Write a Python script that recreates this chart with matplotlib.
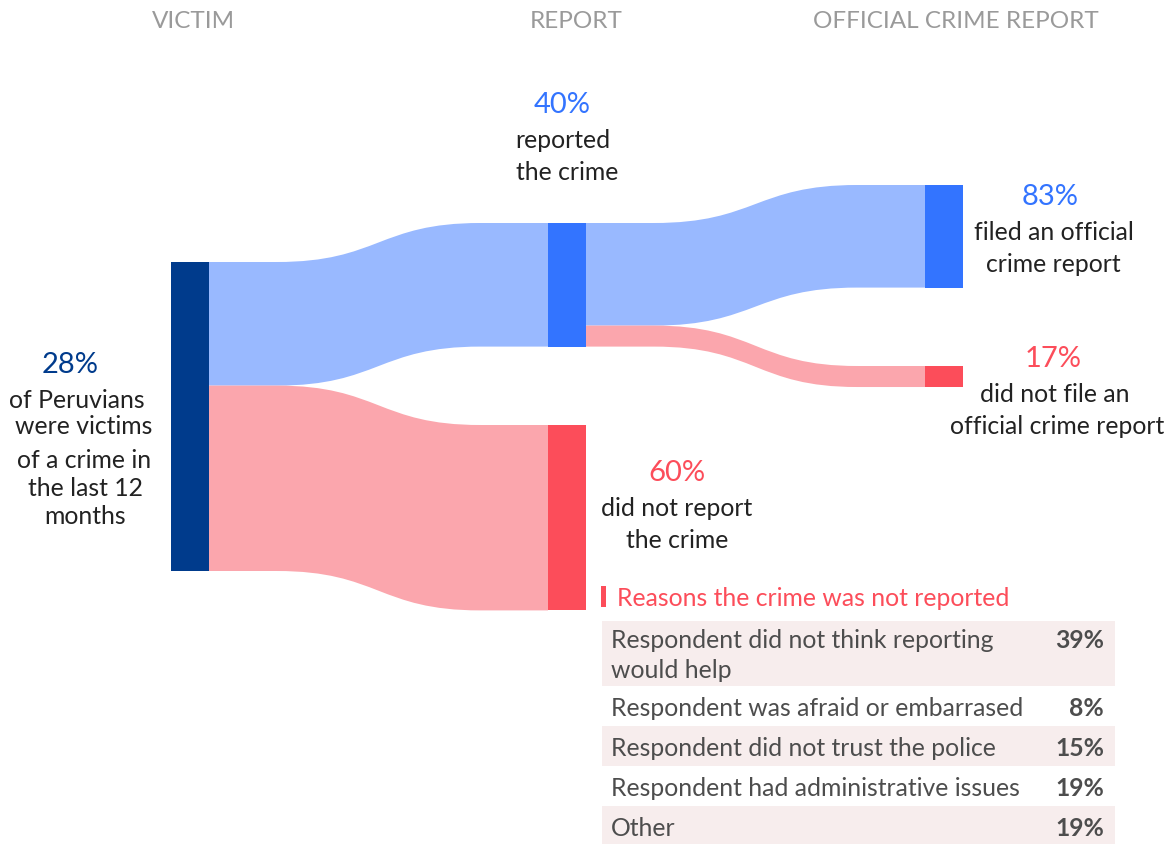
import matplotlib
matplotlib.use("Agg")
import matplotlib.pyplot as plt
from matplotlib.patches import Rectangle, PathPatch
from matplotlib.path import Path

# data
stage_titles = ["VICTIM", "REPORT", "OFFICIAL CRIME REPORT"]
victim_pct = 28
report_pct = [40, 60]          # reported, did not report
official_pct = [83, 17]        # filed, did not file
reasons = ["Respondent did not think reporting\nwould help",
           "Respondent was afraid or embarrased",
           "Respondent did not trust the police",
           "Respondent had administrative issues",
           "Other"]
reason_pct = [39, 8, 15, 19, 19]

# colours
NAVY = "#003b8c"
BLUE = "#3374ff"
RED = "#fc4d5a"
LBLUE = "#99b9ff"
LPINK = "#fba6ad"
DARK = "#222222"
GRAY = "#9a9a9a"
TABLE_TXT = "#4d4d4d"
ROW_BG = "#f7eded"
FONT = "Lato"

fig = plt.figure(figsize=(11.73, 8.44), dpi=100)
ax = fig.add_axes([0, 0, 1, 1])
ax.set_xlim(0, 1173)
ax.set_ylim(844, 0)
ax.axis("off")

# layout (pixels)
col_x = [171, 548, 925]
node_w = 38
full_h = 309
victim_top = 262
report_tops = [223, 425]
official_tops = [185, 366]


def node(x, top, h, color):
    ax.add_patch(Rectangle((x, top), node_w, h, color=color, lw=0, zorder=3))


def edge(x0, y0, x1, y1):
    # flat start, s-curve in the middle, flat end
    dx = x1 - x0
    xa, xb = x0 + 0.2 * dx, x0 + 0.8 * dx
    xm = (xa + xb) / 2
    return [(x0, y0), (xa, y0), (xm, y0), (xm, y1), (xb, y1), (x1, y1)]


def flow(x0, y0, x1, y1, h, color):
    top = edge(x0, y0, x1, y1)
    bot = edge(x0, y0 + h, x1, y1 + h)[::-1]
    seg = [Path.LINETO, Path.CURVE4, Path.CURVE4, Path.CURVE4, Path.LINETO]
    verts = top + bot + [top[0]]
    codes = [Path.MOVETO] + seg + [Path.LINETO] + seg + [Path.CLOSEPOLY]
    ax.add_patch(PathPatch(Path(verts, codes), fc=color, ec="none", zorder=2))


# victim node
node(col_x[0], victim_top, full_h, NAVY)

# report stage
rep_h = [full_h * p / 100 for p in report_pct]
src = victim_top
for top, h, nc, lc in zip(report_tops, rep_h, [BLUE, RED], [LBLUE, LPINK]):
    node(col_x[1], top, h, nc)
    flow(col_x[0] + node_w, src, col_x[1], top, h, lc)
    src += h

# official stage
off_h = [rep_h[0] * p / 100 for p in official_pct]
src = report_tops[0]
for top, h, nc, lc in zip(official_tops, off_h, [BLUE, RED], [LBLUE, LPINK]):
    node(col_x[2], top, h, nc)
    flow(col_x[1] + node_w, src, col_x[2], top, h, lc)
    src += h

# stage titles
for t, x in zip(stage_titles, [193, 576, 956]):
    ax.text(x, 22, t, ha="center", va="center", fontsize=17.5, color=GRAY,
            family=FONT)

BODY = 17.8
PCT = 21


def label(x, y, pct, color, lines, line_x=None, gap=None):
    ax.text(x, y + 2, f"{pct}%", ha="center", va="center", fontsize=PCT,
            color=color, family=FONT)
    for i, ln in enumerate(lines):
        lx = x if line_x is None else line_x[i]
        ly = y + 37 + i * 33 if gap is None else gap[i]
        ax.text(lx, ly, ln, ha="center", va="center", fontsize=BODY,
                color=DARK, family=FONT)


label(70, 363, victim_pct, NAVY,
      ["of Peruvians", "were victims", "of a crime in", "the last 12", "months"],
      line_x=[77, 84, 84, 85, 85], gap=[400, 427, 460, 488, 517])
label(562, 103, report_pct[0], BLUE, ["reported", "the crime"], line_x=[563, 567])
label(677, 471, report_pct[1], RED, ["did not report", "the crime"])
label(1050, 195, official_pct[0], BLUE, ["filed an official", "crime report"],
      line_x=[1054, 1053])
label(1053, 357, official_pct[1], RED, ["did not file an", "official crime report"],
      line_x=[1055, 1057])

# reasons table
ax.add_patch(Rectangle((601, 586), 5, 21, color=RED, lw=0))
ax.text(617, 598, "Reasons the crime was not reported", ha="left", va="center",
        fontsize=BODY, color=RED, family=FONT)

tbl_left, tbl_right = 602, 1115
y = 621
for i, (r, p) in enumerate(zip(reasons, reason_pct)):
    lines = r.split("\n")
    h = 40 + 25 * (len(lines) - 1)
    if i % 2 == 0:
        ax.add_patch(Rectangle((tbl_left, y), tbl_right - tbl_left, h,
                               color=ROW_BG, lw=0, zorder=0))
    ty = y + 20 if len(lines) > 1 else y + 23
    for j, ln in enumerate(lines):
        ax.text(611, ty + j * 30, ln, ha="left", va="center",
                fontsize=BODY, color=TABLE_TXT, family=FONT)
    ax.text(1104, ty, f"{p}%", ha="right", va="center", fontsize=BODY,
            color=TABLE_TXT, family=FONT, weight="bold")
    y += h

fig.savefig("out.png", dpi=100)
